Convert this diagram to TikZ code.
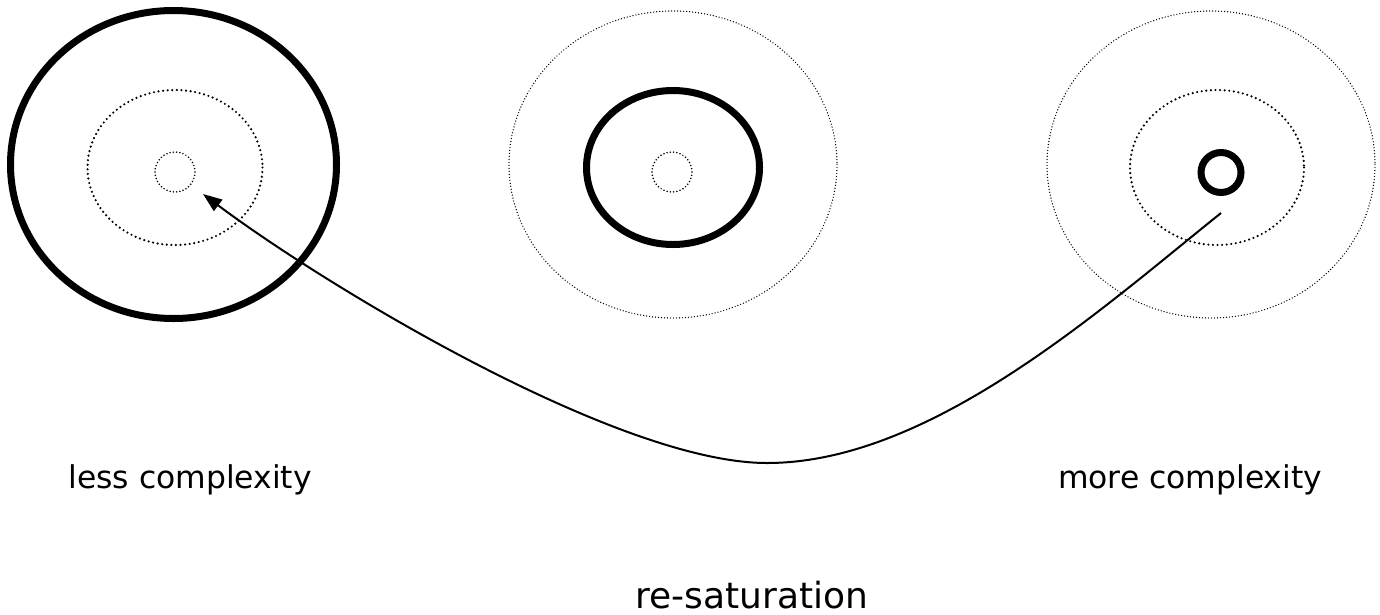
\documentclass[tikz,border=0pt]{standalone}
\usepackage{fontspec}
\setmainfont{DejaVu Sans}
\usetikzlibrary{arrows.meta}
\tikzset{
  thickring/.style={draw=black, line width=7pt},
  finedots/.style={draw=black, line width=1.4pt, line cap=round, dash pattern=on 0pt off 3pt},
  middots/.style={draw=black, line width=2.4pt, line cap=round, dash pattern=on 0pt off 4.6pt},
  smalldots/.style={draw=black, line width=1.7pt, line cap=round, dash pattern=on 0pt off 3.3pt},
  label/.style={anchor=base, inner sep=0pt, font=\fontsize{31.4}{36}\selectfont},
  biglabel/.style={anchor=base, inner sep=0pt, text depth=0pt, font=\fontsize{36}{40}\selectfont},
  link/.style={draw=black, line width=2pt, -{Triangle[length=19pt,width=14pt]}}
}
\begin{document}
\begin{tikzpicture}[x=1pt,y=-1pt]
\useasboundingbox (0,0) rectangle (1380,614);
% left group
\draw[thickring] (173.5,164.5) ellipse [x radius=163, y radius=154];
\draw[middots] (175,167.5) ellipse [x radius=87.5, y radius=77.5];
\draw[smalldots] (175,172) circle [radius=20];
% middle group
\draw[finedots] (673,164.5) ellipse [x radius=164, y radius=153.5];
\draw[thickring] (673,167.5) ellipse [x radius=86.5, y radius=77];
\draw[smalldots] (672,172) circle [radius=20];
% right group
\draw[finedots] (1211,164.5) ellipse [x radius=164, y radius=153.5];
\draw[middots] (1217,167.5) ellipse [x radius=87, y radius=77.5];
\draw[thickring] (1221,172.5) circle [radius=20];
% connector
\coordinate (from) at (1221,213);
\coordinate (low) at (767,463);
\coordinate (to) at (203,194);
\draw[link] (from) .. controls (1100,310) and (930,463) .. (low)
  .. controls (617,463) and (323,284) .. (to);
% labels
\node[label] (less) at (190,488) {less complexity};
\node[label] (more) at (1190,488) {more complexity};
\node[biglabel] (resat) at (752,608) {re-saturation};
\end{tikzpicture}
\end{document}
